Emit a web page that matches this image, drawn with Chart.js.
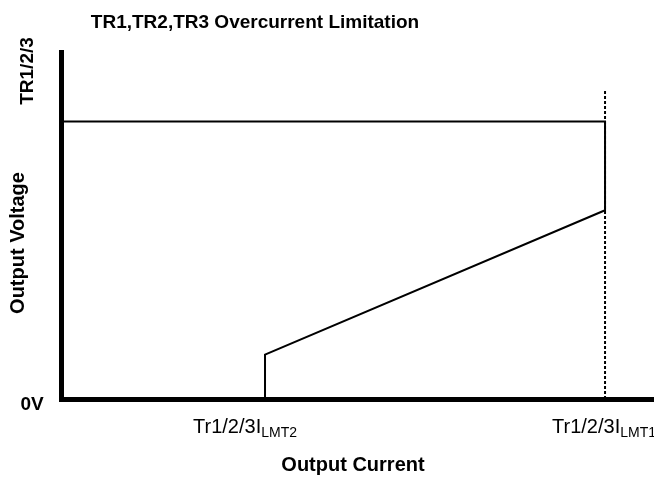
<!DOCTYPE html>
<html lang="en">
<head>
<meta charset="UTF-8" />
<title>TR1,TR2,TR3 Overcurrent Limitation</title>
<script src="https://cdn.jsdelivr.net/npm/chart.js@4.4.1/dist/chart.umd.min.js"></script>
<style>
  html, body { margin: 0; padding: 0; background: #fff; }
  #wrap { width: 654px; height: 478px; position: relative; }
</style>
</head>
<body>
<div id="wrap"><canvas id="grafico"></canvas></div>
<script>
  // characteristic curve (current in % of ILMT1, voltage in % of TR1/2/3 output)
  const currents = [0, 100, 100, 37.5, 37.5];
  const voltages = [100, 100, 68, 16, 0];
  // dotted limit marker at ILMT1
  const limitCurrents = [100, 100];
  const limitVoltages = [0, 111];
  // axis ranges
  const xMax = 109, yMax = 125;
  // tick labels (main part + subscript)
  const xTickValues = [37.5, 100];
  const xTickMain = ['Tr1/2/3I', 'Tr1/2/3I'];
  const xTickSub = ['LMT2', 'LMT1'];
  const yTickValues = [0, yMax];
  const yTickNames = ['0V', 'TR1/2/3'];

  const titleText = 'TR1,TR2,TR3 Overcurrent Limitation';
  const xTitle = 'Output Current';
  const yTitle = 'Output Voltage';

  const FONT = '"Liberation Sans", Arial, sans-serif';

  const toPts = (xs, ys) => xs.map((x, i) => ({ x: x, y: ys[i] }));

  // draws title, axis titles and tick labels (with subscripts)
  const textos = {
    id: 'textos',
    afterDraw(chart) {
      const c = chart.ctx;
      const xs = chart.scales.x, ys = chart.scales.y;
      c.save();
      c.fillStyle = '#000';

      // title
      c.font = 'bold 19px ' + FONT;
      c.textAlign = 'center';
      c.textBaseline = 'alphabetic';
      c.fillText(titleText, 255, 28);

      // x title
      c.font = 'bold 20px ' + FONT;
      c.fillText(xTitle, 353, 471);

      // y title (rotated)
      c.save();
      c.translate(24, 243);
      c.rotate(-Math.PI / 2);
      c.fillText(yTitle, 0, 0);
      c.restore();

      // y tick labels
      c.font = 'bold 19px ' + FONT;
      c.fillText(yTickNames[0], 32, ys.getPixelForValue(yTickValues[0]) + 11);
      c.save();
      c.translate(33, 71);
      c.rotate(-Math.PI / 2);
      c.fillText(yTickNames[1], 0, 0);
      c.restore();

      // x tick labels, main text ends just before subscript
      const offsets = [-72, -53];
      c.textAlign = 'left';
      xTickValues.forEach((v, i) => {
        const px = xs.getPixelForValue(v) + offsets[i];
        c.font = '20px ' + FONT;
        c.fillText(xTickMain[i], px, 433);
        const w = c.measureText(xTickMain[i]).width;
        c.font = '14px ' + FONT;
        c.fillText(xTickSub[i], px + w, 437);
      });
      c.restore();
    }
  };

  const ctx = document.getElementById('grafico').getContext('2d');
  const grafico = new Chart(ctx, {
    type: 'scatter',
    data: {
      datasets: [
        {
          label: 'Limit',
          data: toPts(limitCurrents, limitVoltages),
          showLine: true,
          borderColor: '#000',
          borderWidth: 2,
          borderDash: [3, 2],
          pointRadius: 0,
          fill: false
        },
        {
          label: 'Output',
          data: toPts(currents, voltages),
          showLine: true,
          borderColor: '#000',
          borderWidth: 2,
          pointRadius: 0,
          tension: 0,
          fill: false
        }
      ]
    },
    options: {
      responsive: true,
      maintainAspectRatio: false,
      animation: false,
      layout: { padding: { left: 61, top: 52, right: 0, bottom: 79 } },
      plugins: {
        legend: { display: false },
        title: { display: false },
        tooltip: { enabled: false }
      },
      scales: {
        x: {
          type: 'linear',
          min: 0, max: xMax,
          grid: { display: false, drawTicks: false },
          ticks: { display: false },
          border: { display: true, color: '#000', width: 5 },
          afterFit: s => { s.height = 0; }
        },
        y: {
          type: 'linear',
          min: 0, max: yMax,
          grid: { display: false, drawTicks: false },
          ticks: { display: false },
          border: { display: true, color: '#000', width: 5 },
          afterFit: s => { s.width = 0; }
        }
      }
    },
    plugins: [textos]
  });
</script>
</body>
</html>
